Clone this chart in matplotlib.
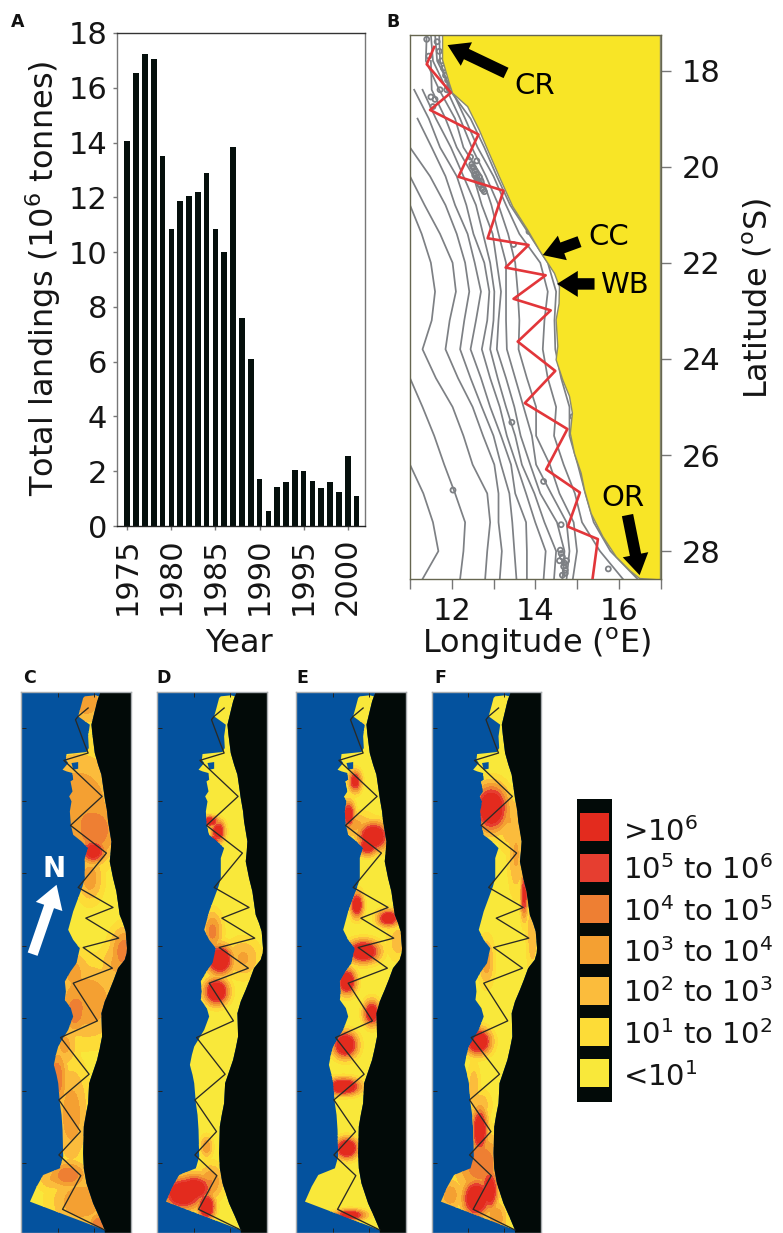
import numpy as np
import matplotlib
matplotlib.use("Agg")
import matplotlib.pyplot as plt
from matplotlib.patches import Polygon

plt.rcParams['font.family'] = ['DejaVu Sans']
plt.rcParams['mathtext.fontset'] = 'dejavusans'
plt.rcParams['mathtext.default'] = 'regular'

# ---------- Panel A data ----------
years = list(range(1975, 2002))
landings = [14.05, 16.55, 17.25, 17.05, 13.5, 10.85, 11.85, 12.05, 12.2, 12.9, 10.85, 10.0, 13.85,
            7.6, 6.1, 1.7, 0.55, 1.42, 1.6, 2.05, 2.0, 1.65, 1.38, 1.6, 1.25, 2.55, 1.08]

# ---------- Panel B data ----------
track_lon = [11.58, 11.40, 11.98, 11.48, 12.64, 12.16, 13.24, 12.86, 13.84, 13.29, 14.25, 13.48, 14.37,
             13.58, 14.48, 13.75, 14.77, 14.26, 15.07, 14.78, 15.50, 15.37]
track_lat = [17.51, 17.87, 18.46, 18.82, 19.33, 20.21, 20.50, 21.49, 21.63, 22.10, 22.26, 22.75, 22.99,
             23.64, 24.25, 24.92, 25.46, 26.30, 26.78, 27.49, 27.75, 28.59]
coast_lon = [11.78, 11.78, 11.94, 12.02, 12.38, 12.66, 12.86, 13.14, 13.46, 13.82, 14.10, 14.46, 14.58, 14.57,
             14.50, 14.54, 14.50, 14.66, 14.82, 14.89, 14.84, 14.94, 15.10, 15.18, 15.34, 15.62, 15.94, 16.26, 16.50, 17.0, 17.0]
coast_lat = [17.24, 17.78, 18.26, 18.47, 18.75, 19.24, 19.65, 20.21, 20.83, 21.32, 21.74, 22.22, 22.50, 22.85,
             23.19, 23.74, 24.02, 24.44, 24.78, 25.13, 25.55, 25.97, 26.38, 26.73, 27.22, 27.70, 28.12, 28.40, 28.57, 28.6, 17.24]
iso_lat = [17.25, 17.8, 18.4, 19, 19.6, 20.2, 20.8, 21.4, 22, 22.6, 23.2, 23.8, 24.4, 25, 25.6, 26.2, 26.8, 27.4, 28, 28.58]
n = np.nan
iso_lons = [
 [n,n,n,n,n,n,n,n,n,n,n,n,n,n,n,11.0,11.32,11.55,11.68,11.3],
 [n,n,n,n,n,n,n,n,n,n,n,n,11.0,11.3,11.58,11.82,12.08,12.32,12.28,12.2],
 [n,n,n,n,n,n,11.0,11.28,11.5,11.6,11.52,11.3,11.62,12.02,12.28,12.5,12.85,12.92,12.85,12.8],
 [n,n,n,n,n,11.0,11.35,11.72,12.02,12.1,11.95,11.85,12.15,12.5,12.75,13.02,13.12,13.12,13.2,13.15],
 [n,n,n,n,11.0,11.48,11.85,12.12,12.32,12.42,12.3,12.2,12.45,12.72,13.0,13.18,13.38,13.45,13.5,13.55],
 [n,n,n,11.18,11.52,11.85,12.08,12.38,12.55,12.7,12.58,12.45,12.7,12.92,13.18,13.42,13.52,13.78,13.8,13.8],
 [n,n,11.1,11.45,11.72,12.12,12.35,12.52,12.78,12.9,12.85,12.72,12.92,13.15,13.32,13.55,13.78,14.0,14.25,14.2],
 [n,n,11.3,11.62,11.98,12.28,12.58,12.75,12.92,13.02,13.0,12.92,13.1,13.3,13.52,13.68,13.98,14.22,14.5,14.45],
 [n,11.5,11.52,11.85,12.12,12.52,12.72,12.98,13.08,13.18,13.12,13.08,13.3,13.5,13.65,13.88,14.12,14.52,14.7,14.65],
 [11.4,11.38,11.7,12.08,12.28,12.72,12.95,13.12,13.3,13.3,13.3,13.32,13.52,13.72,13.92,14.02,14.38,14.75,14.82,14.75],
 [11.5,11.55,11.88,12.2,12.48,12.82,13.12,13.35,13.52,13.58,13.62,13.6,13.8,14.02,14.02,14.35,14.58,14.92,15.0,14.9],
 [11.6,11.65,12.0,12.32,12.62,13.0,13.3,13.62,14.12,14.3,14.22,14.18,14.3,14.5,14.45,14.68,14.95,15.12,15.55,16.1],
 [11.7,11.72,11.95,12.45,12.78,13.08,13.4,13.85,14.3,14.5,14.46,14.48,14.62,14.82,14.82,15.02,15.2,15.4,15.8,16.45],
]
ring_lon = [12.48, 12.52, 12.55, 12.58, 12.6, 12.62, 12.65, 12.68, 12.72, 12.75, 12.78, 12.6, 12.5, 12.45, 12.55, 12.66, 12.7,
            11.75, 11.8, 11.85, 11.7, 11.65, 11.9, 11.6, 11.55, 11.5, 11.72, 11.95, 11.88, 11.4, 11.45,
            14.6, 14.65, 14.7, 14.72, 14.65, 14.75, 14.62, 14.68, 14.72, 14.58,
            15.75, 12.03, 13.44, 13.85, 13.48, 14.9, 14.62, 14.2]
ring_lat = [19.95, 20.02, 20.08, 20.15, 20.22, 20.28, 20.32, 20.38, 20.45, 20.48, 20.52, 19.88, 20.0, 19.8, 20.18, 20.22, 20.3,
            17.8, 17.95, 18.1, 17.6, 17.4, 18.2, 18.6, 18.75, 18.55, 18.4, 18.3, 18.4, 17.35, 17.7,
            27.98, 28.12, 28.25, 28.4, 28.5, 28.2, 28.05, 28.32, 28.46, 28.2,
            28.37, 26.73, 25.32, 21.35, 21.62, 25.2, 27.45, 26.55]

# ---------- Panels C-F data (shared map grid) ----------
shelf_e_x = [272, 262, 245, 248, 255, 265, 275, 280, 285, 292, 295, 300, 305, 303, 300, 310, 320, 325, 330, 340, 348, 352, 351, 345, 325, 312, 300, 285, 275, 277, 270, 262, 250, 238, 235, 228, 222, 220, 222, 230, 240, 250, 268, 285]
shelf_e_y = [82, 110, 180, 210, 265, 300, 330, 365, 400, 440, 470, 500, 530, 560, 590, 640, 680, 715, 750, 775, 800, 850, 865, 885, 910, 945, 975, 1010, 1045, 1115, 1150, 1185, 1220, 1255, 1315, 1350, 1385, 1465, 1510, 1555, 1585, 1615, 1655, 1695]
shelf_w_x = [60, 80, 100, 125, 150, 160, 158, 155, 150, 145, 140, 132, 138, 145, 160, 175, 190, 183, 165, 168, 165, 182, 200, 210, 190, 175, 190, 205, 218, 225, 225, 235, 215, 190, 183, 180, 185, 178, 188, 182, 190, 188, 170, 158, 175, 168, 170, 200, 230, 237, 235, 240, 205, 212, 220, 225, 255, 268]
shelf_w_y = [1610, 1565, 1530, 1520, 1510, 1475, 1395, 1350, 1315, 1255, 1230, 1200, 1170, 1145, 1120, 1095, 1055, 1030, 1005, 980, 950, 920, 895, 850, 825, 795, 740, 700, 665, 640, 580, 550, 530, 510, 480, 440, 410, 395, 380, 350, 345, 325, 320, 315, 295, 285, 268, 265, 262, 250, 215, 180, 155, 130, 100, 95, 92, 95]
pocket_x = [185, 205, 205, 190]
pocket_y = [295, 292, 312, 315]
map_track_x = [235, 205, 197, 225, 235, 162, 277, 182, 290, 205, 310, 228, 327, 220, 308, 190, 263, 152, 238, 147, 212, 147, 213, 158, 285]
map_track_y = [130, 155, 165, 240, 265, 287, 395, 482, 565, 668, 728, 760, 820, 848, 910, 955, 1068, 1118, 1228, 1305, 1400, 1470, 1532, 1633, 1695]
map_xticks = [143, 252]
map_yticks = [190, 408, 625, 843, 1060, 1278, 1495]

# blobs: centre x, centre y, peak class, spread x, spread y
blobs_C = [(230, 110, 3.7, 50, 55), (205, 420, 3.9, 105, 130), (255, 495, 4.9, 60, 70), (250, 560, 7.5, 28, 26),
           (240, 640, 3.6, 30, 55), (345, 860, 4.8, 34, 55), (320, 900, 3.2, 40, 50), (190, 920, 3.4, 40, 50),
           (230, 1010, 3.9, 85, 90), (195, 1040, 4.9, 28, 50), (140, 1240, 4.9, 25, 70), (165, 1140, 3.3, 30, 50),
           (185, 1350, 3.6, 40, 120), (175, 1530, 4.9, 45, 32), (215, 1610, 3.9, 70, 60), (265, 1680, 4.9, 22, 30),
           (130, 1540, 3.0, 40, 30)]
blobs_D = [(192, 470, 7.5, 20, 12), (217, 500, 7.5, 15, 24), (202, 530, 8.0, 12, 14), (200, 800, 4.4, 22, 45),
           (222, 885, 9.0, 28, 32), (292, 880, 3.2, 40, 45), (212, 980, 9.0, 26, 28), (182, 1445, 3.8, 14, 25),
           (112, 1585, 9.0, 42, 34), (182, 1625, 9.0, 18, 28), (145, 1570, 8.0, 40, 30), (195, 1550, 4.0, 30, 40)]
blobs_E = [(211, 350, 7.0, 14, 24), (191, 450, 7.5, 14, 30), (266, 515, 9.0, 32, 30), (248, 545, 7.5, 22, 20),
           (231, 185, 2.8, 7, 12), (216, 720, 7.8, 14, 28), (311, 760, 7.8, 24, 18), (236, 860, 9.0, 34, 24),
           (186, 950, 8.5, 20, 28), (261, 1045, 7.8, 18, 28), (181, 1140, 9.0, 26, 28), (176, 1265, 9.0, 36, 18),
           (186, 1450, 9.0, 24, 22), (196, 1650, 7.5, 34, 12), (200, 480, 3.4, 55, 30), (340, 830, 2.6, 25, 45)]
blobs_F = [(213, 430, 9.0, 36, 50), (270, 470, 3.0, 30, 70), (313, 690, 6.5, 8, 55), (288, 570, 3.2, 18, 90),
           (338, 800, 2.8, 14, 100), (198, 890, 3.6, 18, 55), (173, 1130, 9.0, 28, 28), (178, 1395, 8.2, 17, 50),
           (180, 1495, 4.9, 60, 70), (168, 1600, 9.0, 30, 40), (208, 1575, 8.0, 18, 45), (88, 1590, 3.6, 30, 40),
           (228, 1660, 3.9, 25, 40), (160, 1270, 2.8, 15, 60), (180, 1320, 2.8, 25, 35)]

class_colors = ['#F9E83A', '#FDDC37', '#FBBC3C', '#F4A032', '#EE7F33', '#E63E30', '#E32B1E']
legend_labels = ['>$10^{6}$', '$10^{5}$ to $10^{6}$', '$10^{4}$ to $10^{5}$', '$10^{3}$ to $10^{4}$',
                 '$10^{2}$ to $10^{3}$', '$10^{1}$ to $10^{2}$', '<$10^{1}$']

W, H = 783, 1233
fig = plt.figure(figsize=(W / 100, H / 100), dpi=100, facecolor='white')

def pax(x0, y0, x1, y1, **kw):
    return fig.add_axes([x0 / W, 1 - y1 / H, (x1 - x0) / W, (y1 - y0) / H], **kw)

def ftext(x, y, s, **kw):
    kw.setdefault('ha', 'center')
    kw.setdefault('va', 'center')
    return fig.text(x / W, 1 - y / H, s, **kw)

TXT = '#151515'
GR = '#777777'
FS = 22
FL = 23

# ---------- A ----------
ax = pax(117, 33, 365, 526)
ax.bar(years, landings, width=0.64, color='#050f0c')
ax.set_xlim(1973.83, 2001.96)
ax.set_ylim(0, 18)
ax.set_yticks(range(0, 19, 2))
ax.set_xticks([1975, 1980, 1985, 1990, 1995, 2000])
ax.tick_params(axis='y', labelsize=FS, length=3, width=1, color=GR, labelcolor=TXT, pad=4)
ax.tick_params(axis='x', labelsize=FS, length=3, width=1, color=GR, labelcolor=TXT, pad=5, labelrotation=90)
for s in ('right', 'left'):
    ax.spines[s].set_color(GR)
ax.spines['top'].set_color('#333333')
ax.spines['bottom'].set_color('#222222')
for s in ax.spines.values():
    s.set_linewidth(1)
ftext(43, 278, 'Total landings ($10^{6}$ tonnes)', rotation=90, fontsize=FL, color=TXT)
ftext(239, 643, 'Year', fontsize=FL, color=TXT)

# ---------- B ----------
ax = pax(410, 34.5, 660.5, 579)
ax.set_xlim(11, 17)
ax.set_ylim(28.58, 17.25)
for lons in iso_lons:
    ax.plot(lons, iso_lat, color='#7d8084', lw=1.25, zorder=1)
ax.scatter(ring_lon, ring_lat, s=13, facecolor='none', edgecolor='#7d8084', lw=1.3, zorder=1)
ax.add_patch(Polygon(np.column_stack([coast_lon, coast_lat]), closed=True, facecolor='#F8E526',
                     edgecolor='#8a8a70', lw=1, zorder=2))
ax.plot(track_lon, track_lat, color='#E2363A', lw=1.9, zorder=3)
ax.yaxis.tick_right()
ax.set_xticks([11, 12, 13, 14, 15, 16, 17], ['', '12', '', '14', '', '16', ''])
ax.set_yticks([18, 20, 22, 24, 26, 28])
ax.tick_params(axis='both', labelsize=FS, length=7, width=1, color=GR, labelcolor=TXT)
ax.tick_params(axis='y', pad=8)
ax.tick_params(axis='x', pad=6)
for s in ax.spines.values():
    s.set_color('#666650')
    s.set_linewidth(1)
arrow = dict(arrowstyle='simple,head_width=1.25,head_length=1.0,tail_width=0.55', color='black', lw=0, shrinkA=0, shrinkB=0)
def arr(tip, tail):
    ax.annotate('', xy=tip, xytext=tail, arrowprops=dict(arrow, mutation_scale=15), zorder=4)
arr((11.90, 17.47), (13.30, 18.05))
arr((14.18, 21.84), (15.06, 21.56))
arr((14.52, 22.44), (15.42, 22.44))
arr((16.50, 28.50), (16.21, 27.25))
for lx, ly, t in [(13.98, 18.33, 'CR'), (15.76, 21.46, 'CC'), (16.14, 22.47, 'WB'), (16.10, 26.90, 'OR')]:
    ax.text(lx, ly, t, fontsize=21, color='black', ha='center', va='center', zorder=5)
ftext(537, 644, 'Longitude ($^{o}$E)', fontsize=FL, color=TXT)
ftext(758, 298, 'Latitude ($^{o}$S)', rotation=90, fontsize=FL, color=TXT)

# ---------- C-F ----------
gx = np.arange(33, 365, 1.5)
gy = np.arange(82, 1705, 1.5)
GX, GY = np.meshgrid(gx, gy)
levels = [-1, 1, 2, 3, 4, 5, 6, 100]
shelf = np.column_stack([shelf_e_x + shelf_w_x, shelf_e_y + shelf_w_y])
land = np.column_stack([shelf_e_x + [285, 364, 364], shelf_e_y + [1704, 1704, 82]])

panels = [(21, 131, 'C', blobs_C, 30), (157, 267, 'D', blobs_D, 164), (296, 406, 'E', blobs_E, 302), (432, 541, 'F', blobs_F, 440)]
for x0, x1, letter, blobs, lx in panels:
    ax = pax(x0, 692, x1, 1233)
    ax.set_facecolor('#04529E')
    stack = np.full_like(GX, 0.5 ** 8, dtype=float)
    for cx, cy, p, sx, sy in blobs:
        stack += (p * np.exp(-0.5 * (((GX - cx) / sx) ** 2 + ((GY - cy) / sy) ** 2))) ** 8
    field = stack ** 0.125
    cf = ax.contourf(GX, GY, field, levels=levels, colors=class_colors, zorder=1)
    poly = Polygon(shelf, closed=True, transform=ax.transData, facecolor='none', edgecolor='none')
    ax.add_patch(poly)
    cf.set_clip_path(poly)
    ax.add_patch(Polygon(land, closed=True, facecolor='#020a08', edgecolor='none', zorder=2))
    ax.add_patch(Polygon(np.column_stack([pocket_x, pocket_y]), closed=True, facecolor='#04529E', edgecolor='none', zorder=2))
    ax.plot(map_track_x, map_track_y, color='#2a2a25', lw=0.95, zorder=3)
    ax.set_xlim(33, 364)
    ax.set_ylim(1704, 82)
    ax.set_xticks(map_xticks)
    ax.set_yticks(map_yticks)
    ax.tick_params(axis='both', direction='in', length=3.5, width=0.7, color='#222222',
                   top=True, bottom=True, left=True, right=False, labelleft=False, labelbottom=False)
    for s in ax.spines.values():
        s.set_color('#a9adb0')
        s.set_linewidth(1)
    ftext(lx, 678, letter, fontsize=12.5, fontweight='bold', color='#111111')
    if letter == 'C':
        ax.annotate('', xy=(140, 660), xytext=(68, 868), zorder=5,
                    arrowprops=dict(arrowstyle='simple,head_width=1.35,head_length=1.1,tail_width=0.5',
                                    color='white', lw=0, shrinkA=0, shrinkB=0, mutation_scale=15))
        ax.text(131, 612, 'N', color='white', fontsize=20, fontweight='bold', ha='center', va='center', zorder=5)

ftext(18, 22, 'A', fontsize=12.5, fontweight='bold', color='#111111')
ftext(393, 22, 'B', fontsize=12.5, fontweight='bold', color='#111111')

# ---------- legend ----------
ax = pax(577, 799, 612, 1102)
ax.barh(range(7), [1] * 7, height=0.69, left=0, color=class_colors[::-1], zorder=2)
ax.set_xlim(-0.11, 1.11)
ax.set_ylim(6.7, -0.68)
ax.set_axis_off()
ax.add_patch(plt.Rectangle((0, 0), 1, 1, transform=ax.transAxes, facecolor='#020a08', zorder=0))
label_y = [832, 870, 912, 953, 993, 1035, 1077]
for ly, t in zip(label_y, legend_labels):
    ftext(623, ly, t, ha='left', fontsize=21, color=TXT)

fig.savefig('out.png', dpi=100)
